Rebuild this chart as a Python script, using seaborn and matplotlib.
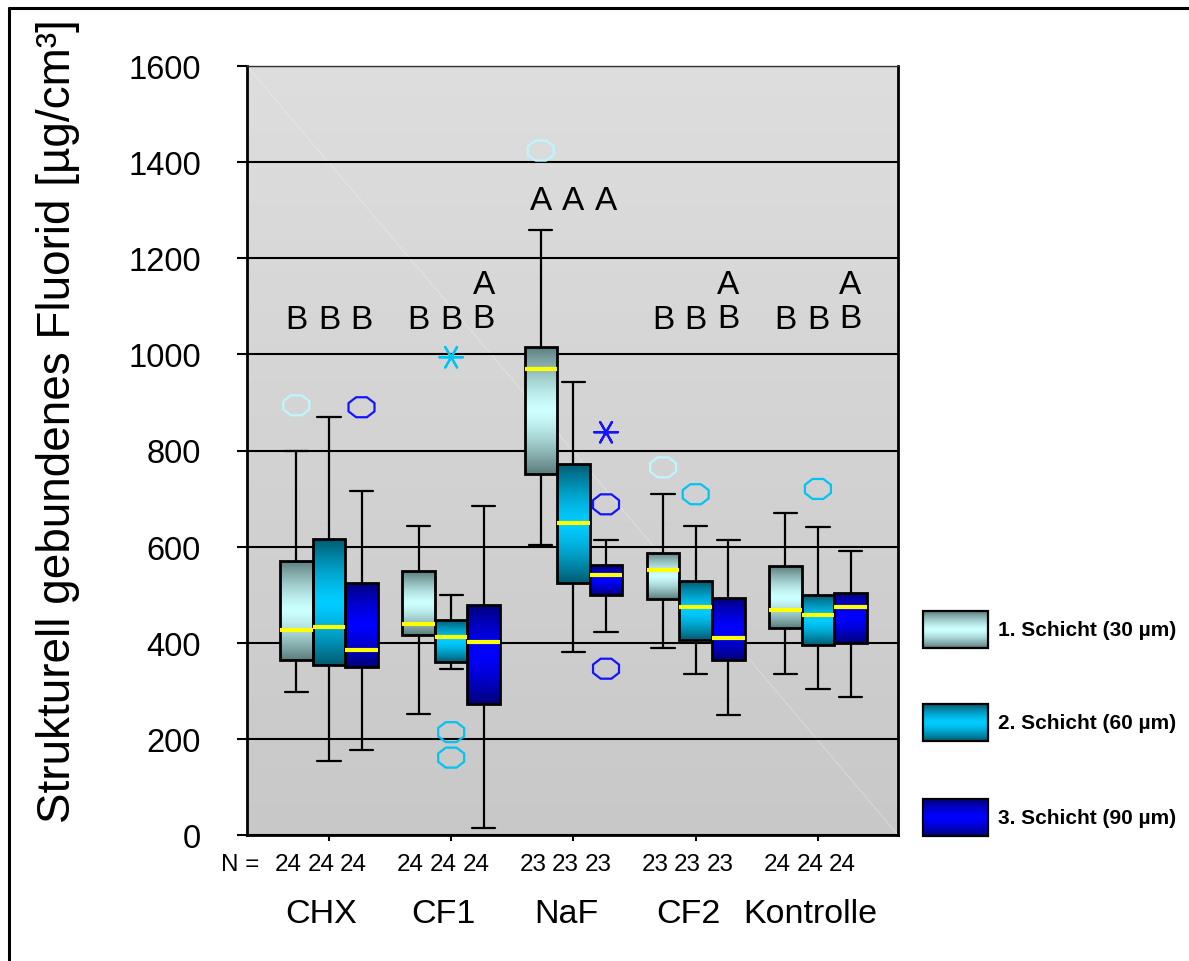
import numpy as np
import pandas as pd
import matplotlib
matplotlib.use("Agg")
import matplotlib.pyplot as plt
from matplotlib.path import Path
from matplotlib.patches import Rectangle
import matplotlib.colors as mcolors
import seaborn as sns

groups = ["CHX", "CF1", "NaF", "CF2", "Kontrolle"]
layers = ["1. Schicht (30 µm)", "2. Schicht (60 µm)", "3. Schicht (90 µm)"]
n_per_group = [24, 24, 23, 23, 24]

# five-number summaries (one value per group)
whisker_low = {
    layers[0]: [298, 252, 604, 389, 335],
    layers[1]: [155, 346, 381, 335, 304],
    layers[2]: [176, 15, 423, 249, 287],
}
quart_low = {
    layers[0]: [364, 416, 751, 490, 431],
    layers[1]: [353, 360, 524, 406, 396],
    layers[2]: [350, 273, 500, 364, 399],
}
medians = {
    layers[0]: [426, 440, 970, 552, 468],
    layers[1]: [433, 412, 649, 475, 458],
    layers[2]: [385, 402, 541, 410, 475],
}
quart_high = {
    layers[0]: [570, 549, 1016, 587, 559],
    layers[1]: [615, 447, 771, 528, 500],
    layers[2]: [525, 479, 562, 493, 504],
}
whisker_high = {
    layers[0]: [800, 642, 1258, 709, 670],
    layers[1]: [869, 500, 942, 642, 640],
    layers[2]: [715, 684, 614, 614, 590],
}

# outliers (circles) and extremes (asterisks)
outlier_group = ["CHX", "CHX", "CF1", "CF1", "NaF", "NaF", "NaF", "CF2", "CF2", "Kontrolle"]
outlier_layer = [0, 2, 1, 1, 0, 2, 2, 0, 1, 1]
outlier_value = [894, 890, 214, 161, 1424, 688, 346, 765, 709, 720]
extreme_group = ["CF1", "NaF"]
extreme_layer = [1, 2]
extreme_value = [994, 838]

# significance letters per box
letters = [["B", "B", "B"], ["B", "B", "AB"], ["A", "A", "A"],
           ["B", "B", "AB"], ["B", "B", "AB"]]

mid_colors = ["#ccffff", "#00ccff", "#0000ff"]
dark_colors = ["#5c7b7b", "#005a70", "#000078"]
outlier_colors = ["#bdf6ff", "#00c4f2", "#1414ff"]

rows = []
for layer in layers:
    for gi, g in enumerate(groups):
        for stat in (whisker_low, quart_low, medians, quart_high, whisker_high):
            rows.append({"Gruppe": g, "Schicht": layer, "Fluorid": stat[layer][gi]})
box_df = pd.DataFrame(rows)

out_df = pd.DataFrame({"Gruppe": outlier_group,
                       "Schicht": [layers[i] for i in outlier_layer],
                       "Fluorid": outlier_value})
ext_df = pd.DataFrame({"Gruppe": extreme_group,
                       "Schicht": [layers[i] for i in extreme_layer],
                       "Fluorid": extreme_value})

sns.set_style("white")
plt.rcParams["font.family"] = ["Liberation Sans", "DejaVu Sans"]
plt.rcParams["text.color"] = "black"
plt.rcParams["axes.labelcolor"] = "black"
plt.rcParams["xtick.color"] = "black"
plt.rcParams["ytick.color"] = "black"


def gradient(i, n=256):
    t = np.abs(np.linspace(-1, 1, n)) ** 1.4
    mid = np.array(mcolors.to_rgb(mid_colors[i]))
    dark = np.array(mcolors.to_rgb(dark_colors[i]))
    img = mid[None, :] * (1 - t[:, None]) + dark[None, :] * t[:, None]
    return img[:, None, :]


fig = plt.figure(figsize=(11.89, 9.62), dpi=100)
ax = fig.add_axes([247 / 1189, 1 - 836 / 962, 651 / 1189, 769 / 962])

# plot area background
bg = np.linspace(0.87, 0.785, 256)[:, None, None] * np.ones((1, 1, 3))
ax.imshow(bg, extent=[0, 1, 0, 1], transform=ax.transAxes, aspect="auto",
          zorder=0, interpolation="bilinear")
ax.plot([0, 1], [1, 0], transform=ax.transAxes, color="white", lw=0.7,
        alpha=0.3, zorder=0.3)

n_lines = len(ax.lines)
sns.boxplot(data=box_df, x="Gruppe", y="Fluorid", hue="Schicht",
            order=groups, hue_order=layers, palette=mid_colors, saturation=1,
            width=0.8, gap=0, whis=(0, 100), showfliers=False,
            linecolor="black", linewidth=2,
            medianprops=dict(color="#ffff00", linewidth=3),
            whiskerprops=dict(linewidth=1.6), capprops=dict(linewidth=1.6),
            legend=False, ax=ax)

# widen the whisker caps a little (they are the short black horizontals)
for line in ax.lines[n_lines:]:
    xd = np.asarray(line.get_xdata(), dtype=float)
    yd = np.asarray(line.get_ydata(), dtype=float)
    if len(xd) == 2 and yd[0] == yd[1] and mcolors.to_hex(line.get_color()) == "#000000":
        c = xd.mean()
        line.set_xdata([c - 0.095, c + 0.095])

# gradient fills clipped to each box
mid_rgb = np.array([mcolors.to_rgb(c) for c in mid_colors])
for patch in list(ax.patches):
    fc = np.array(patch.get_facecolor()[:3])
    idx = int(np.argmin(((mid_rgb - fc) ** 2).sum(axis=1)))
    verts = patch.get_path().vertices
    x0, x1 = verts[:, 0].min(), verts[:, 0].max()
    y0, y1 = verts[:, 1].min(), verts[:, 1].max()
    im = ax.imshow(gradient(idx), extent=[x0, x1, y0, y1], aspect="auto",
                   origin="lower", zorder=1.9, interpolation="bilinear")
    im.set_clip_path(patch)
    patch.set_facecolor("none")

octagon_angles = np.deg2rad(22.5 + 45 * np.arange(9))
octagon = Path(np.column_stack([1.3 * np.cos(octagon_angles), np.sin(octagon_angles)]),
               closed=True)

n_before = len(ax.collections)
sns.stripplot(data=out_df, x="Gruppe", y="Fluorid", hue="Schicht",
              order=groups, hue_order=layers, palette=outlier_colors,
              dodge=True, jitter=False, marker=octagon, size=18.7,
              linewidth=1.6, legend=False, ax=ax, zorder=3)
sns.stripplot(data=ext_df, x="Gruppe", y="Fluorid", hue="Schicht",
              order=groups, hue_order=layers, palette=outlier_colors,
              dodge=True, jitter=False, marker=(6, 2, 90), size=17,
              linewidth=1.6, legend=False, ax=ax, zorder=3)
for coll in ax.collections[n_before:]:
    fc = coll.get_facecolors()
    if len(fc):
        coll.set_edgecolors(fc)
        coll.set_facecolors("none")

ax.set_xlim(-0.67, 4.655)
ax.set_ylim(0, 1600)
ax.set_yticks(np.arange(0, 1601, 200))
ax.set_axisbelow(True)
ax.yaxis.grid(True, color="black", lw=1.5)
ax.xaxis.grid(False)
ax.set_xticks(range(len(groups)))
ax.set_xticklabels([])
ax.set_xlabel("")
ax.set_ylabel("")
ax.tick_params(axis="y", left=True, direction="out", length=7.2, width=1.5,
               pad=26, labelsize=23.5, colors="black")
ax.tick_params(axis="x", bottom=True, direction="out", length=4.5, width=1.5,
               colors="black")
for side in ["left", "bottom", "right"]:
    ax.spines[side].set_linewidth(2)
    ax.spines[side].set_color("black")
ax.spines["top"].set_linewidth(1)
ax.spines["top"].set_color("#333333")

# letters above boxes
step = 0.8 / len(layers)
for gi, row in enumerate(letters):
    for li, lab in enumerate(row):
        x = gi + (li - 1) * step
        if lab == "A":
            ax.text(x, 1320, "A", ha="center", va="center", fontsize=24)
        elif lab == "B":
            ax.text(x, 1072, "B", ha="center", va="center", fontsize=24)
        else:
            ax.text(x, 1110, "A\nB", ha="center", va="center", fontsize=24,
                    linespacing=1.1)

# N counts and group names below the axis
btrans = ax.get_xaxis_transform()
ax.text(-0.727, -0.0377, "N =", transform=btrans, ha="center", va="center",
        fontsize=17.5)
for gi, g in enumerate(groups):
    for li in range(len(layers)):
        ax.text(gi + (li - 1) * step - 0.065, -0.0377, str(n_per_group[gi]),
                transform=btrans, ha="center", va="center", fontsize=17.5)
    ax.text(gi - 0.06, -0.1027, g, transform=btrans, ha="center", va="center",
            fontsize=24.5)

fig.text(58 / 1189, 1 - 421 / 962, "Strukturell gebundenes Fluorid [µg/cm³]",
         rotation=90, ha="center", va="center", fontsize=33)

# legend and outer frame on an overlay in pixel units
lax = fig.add_axes([0, 0, 1, 1])
lax.set_xlim(0, 1189)
lax.set_ylim(962, 0)
lax.axis("off")
for i, layer in enumerate(layers):
    top = [612, 705, 800][i]
    lax.imshow(gradient(i), extent=[923, 988, top + 37, top], aspect="auto",
               origin="lower", interpolation="bilinear")
    lax.add_patch(Rectangle((923, top), 65, 37, fill=False, ec="black", lw=1.6))
    lax.text(998, top + 19, layer, ha="left", va="center", fontsize=15,
             fontweight="bold")
lax.plot([8, 1189], [9, 9], color="black", lw=2.2, solid_capstyle="butt")
lax.plot([9, 9], [8, 962], color="black", lw=2.2, solid_capstyle="butt")
lax.set_xlim(0, 1189)
lax.set_ylim(962, 0)

fig.savefig("out.png", dpi=100)
